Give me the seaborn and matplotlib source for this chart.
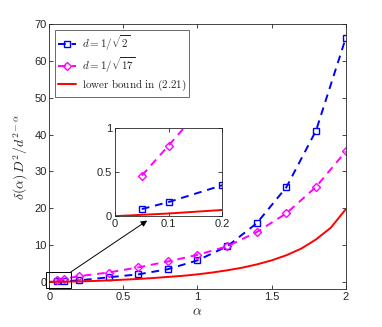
"""Recreation of the delta(alpha) D^2 / d^(2-alpha) chart with an inset zoom."""

import matplotlib
matplotlib.use("Agg")
import matplotlib.pyplot as plt
import pandas as pd
import seaborn as sns
from matplotlib.patches import Rectangle

# sampled alpha values (markers)
alpha_pts = [0.05, 0.1, 0.2, 0.4, 0.6, 0.8, 1.0, 1.2, 1.4, 1.6, 1.8, 2.0]
val_sqrt2 = [0.08, 0.16, 0.35, 1.2, 2.0, 3.4, 5.8, 9.6, 15.9, 25.7, 41.1, 66.2]
val_sqrt17 = [0.46, 0.80, 1.5, 2.5, 3.9, 5.5, 7.3, 9.6, 13.5, 18.6, 25.8, 35.4]

# lower bound curve
alpha_lb = [0.0, 0.1, 0.2, 0.3, 0.4, 0.5, 0.6, 0.7, 0.8, 0.9, 1.0,
            1.1, 1.2, 1.3, 1.4, 1.5, 1.6, 1.7, 1.8, 1.9, 2.0]
val_lb = [0.0, 0.03, 0.07, 0.2, 0.35, 0.55, 0.75, 1.0, 1.3, 1.6, 2.0,
          2.5, 3.1, 3.8, 4.7, 5.8, 7.2, 9.0, 11.5, 14.7, 19.7]

labels = [r"$d=1/\sqrt{2}$", r"$d=1/\sqrt{17}$", r"$\mathrm{lower\ bound\ in\ (2.21)}$"]

BLUE = (0, 0, 1)
MAGENTA = (1, 0, 1)
RED = (1, 0, 0)
FRAME = (0.15, 0.15, 0.15)

sns.set_style("ticks")
plt.rcParams["font.family"] = ["Liberation Sans", "DejaVu Sans"]
plt.rcParams["mathtext.fontset"] = "cm"
plt.rcParams["xtick.direction"] = "in"
plt.rcParams["ytick.direction"] = "in"
plt.rcParams["axes.edgecolor"] = FRAME
plt.rcParams["xtick.color"] = FRAME
plt.rcParams["ytick.color"] = FRAME
plt.rcParams["axes.linewidth"] = 0.6

df_a = pd.DataFrame({"alpha": alpha_pts, "v": val_sqrt2})
df_b = pd.DataFrame({"alpha": alpha_pts, "v": val_sqrt17})
df_lb = pd.DataFrame({"alpha": alpha_lb, "v": val_lb})


def draw_series(ax, ms):
    sns.lineplot(data=df_a, x="alpha", y="v", ax=ax, color=BLUE, lw=1.4,
                 linestyle=(0, (4, 3)), marker="s", markersize=ms, markerfacecolor="none",
                 markeredgecolor=BLUE, markeredgewidth=1.0, label=labels[0])
    sns.lineplot(data=df_b, x="alpha", y="v", ax=ax, color=MAGENTA, lw=1.4,
                 linestyle=(0, (4, 3)), marker="D", markersize=ms, markerfacecolor="none",
                 markeredgecolor=MAGENTA, markeredgewidth=1.0, label=labels[1])
    sns.lineplot(data=df_lb, x="alpha", y="v", ax=ax, color=RED, lw=1.4,
                 label=labels[2])


fig = plt.figure(figsize=(3.82, 3.27), dpi=100)
ax = fig.add_axes([0.129, 0.116, 0.776, 0.810])
draw_series(ax, 4.5)

ax.set_xlim(0, 2)
ax.set_ylim(-2, 70)
ax.set_xticks([0, 0.5, 1, 1.5, 2])
ax.set_xticklabels(["0", "0.5", "1", "1.5", "2"])
ax.set_yticks(range(0, 71, 10))
ax.tick_params(labelsize=8, length=3, width=0.6, top=True, right=True, pad=2)
ax.set_xlabel(r"$\alpha$", fontsize=10, labelpad=2)
ax.set_ylabel(r"$\delta(\alpha)\,D^2/d^{2-\alpha}$", fontsize=10, labelpad=3)

leg = ax.legend(loc="upper left", fontsize=8, frameon=True, fancybox=False,
                edgecolor=FRAME, handlelength=1.6, handletextpad=0.5,
                borderpad=0.3, labelspacing=0.25, borderaxespad=0.5)
leg.get_frame().set_linewidth(0.6)

# zoom box in main axes
ax.add_patch(Rectangle((-0.022, -1.7), 0.166, 4.3, fill=False, ec="k", lw=0.7,
                       clip_on=False, zorder=5))

# inset
axin = fig.add_axes([0.301, 0.339, 0.281, 0.270])
draw_series(axin, 4.5)
axin.get_legend().remove()
axin.set_xlim(0, 0.2)
axin.set_ylim(0, 1)
axin.set_xticks([0, 0.1, 0.2])
axin.set_xticklabels(["0", "0.1", "0.2"])
axin.set_yticks([0, 0.5, 1])
axin.set_yticklabels(["0", "0.5", "1"])
axin.set_xlabel("")
axin.set_ylabel("")
axin.tick_params(labelsize=8, length=3, width=0.6, top=True, right=True, pad=2)
axin.set_facecolor("white")

ax.annotate("", xy=(0.06, -0.05), xycoords=axin.transData,
            xytext=(0.144, 2.6), textcoords=ax.transData,
            arrowprops=dict(arrowstyle="-|>", color="k", lw=0.7,
                            mutation_scale=9, shrinkA=0, shrinkB=0))

fig.savefig("out.png", dpi=100)
